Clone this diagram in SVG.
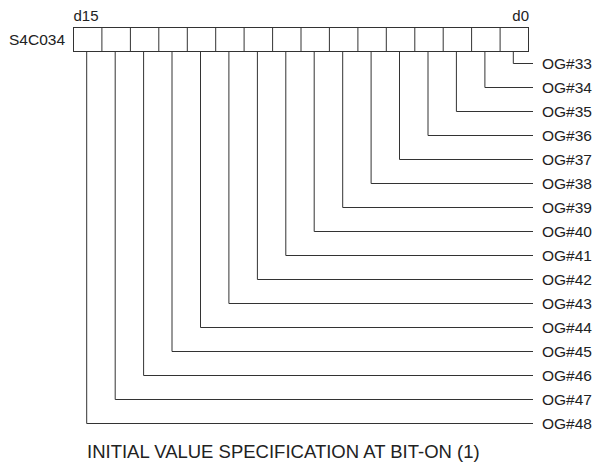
<svg xmlns="http://www.w3.org/2000/svg" width="594" height="463" viewBox="0 0 594 463">
<style>
text{font-family:"Liberation Sans",Arial,sans-serif;fill:#222;font-size:15px}
.cell{fill:#fff;stroke:#333;stroke-width:1}
.w{fill:none;stroke:#333;stroke-width:1}
.og{dominant-baseline:central;font-size:15.5px}
</style>
<rect width="594" height="463" fill="#fff"/>
<g id="register">
<text x="65" y="45" text-anchor="end" style="font-size:15.5px">S4C034</text>
<text x="73.5" y="21">d15</text>
<text x="529" y="21" text-anchor="end">d0</text>
<rect class="cell" x="73.5" y="27.5" width="455" height="24"/>
<path class="w" d="M101.9 27.5V51.5M130.4 27.5V51.5M158.8 27.5V51.5M187.3 27.5V51.5M215.7 27.5V51.5M244.1 27.5V51.5M272.6 27.5V51.5M301 27.5V51.5M329.4 27.5V51.5M357.9 27.5V51.5M386.3 27.5V51.5M414.8 27.5V51.5M443.2 27.5V51.5M471.6 27.5V51.5M500.1 27.5V51.5"/>
</g>
<g id="connectors" class="w">
<path d="M513.3 51.5V63.5H533"/>
<path d="M484.9 51.5V87.5H533"/>
<path d="M456.4 51.5V111.5H533"/>
<path d="M428 51.5V135.5H533"/>
<path d="M399.5 51.5V159.5H533"/>
<path d="M371.1 51.5V183.5H533"/>
<path d="M342.7 51.5V207.5H533"/>
<path d="M314.2 51.5V231.5H533"/>
<path d="M285.8 51.5V255.5H533"/>
<path d="M257.4 51.5V279.5H533"/>
<path d="M228.9 51.5V303.5H533"/>
<path d="M200.5 51.5V327.5H533"/>
<path d="M172 51.5V351.5H533"/>
<path d="M143.6 51.5V375.5H533"/>
<path d="M115.2 51.5V399.5H533"/>
<path d="M86.7 51.5V423.5H533"/>
</g>
<g id="labels">
<text class="og" x="542" y="63.5">OG#33</text>
<text class="og" x="542" y="87.5">OG#34</text>
<text class="og" x="542" y="111.5">OG#35</text>
<text class="og" x="542" y="135.5">OG#36</text>
<text class="og" x="542" y="159.5">OG#37</text>
<text class="og" x="542" y="183.5">OG#38</text>
<text class="og" x="542" y="207.5">OG#39</text>
<text class="og" x="542" y="231.5">OG#40</text>
<text class="og" x="542" y="255.5">OG#41</text>
<text class="og" x="542" y="279.5">OG#42</text>
<text class="og" x="542" y="303.5">OG#43</text>
<text class="og" x="542" y="327.5">OG#44</text>
<text class="og" x="542" y="351.5">OG#45</text>
<text class="og" x="542" y="375.5">OG#46</text>
<text class="og" x="542" y="399.5">OG#47</text>
<text class="og" x="542" y="423.5">OG#48</text>
</g>
<text id="caption" x="87" y="458" style="font-size:18.5px">INITIAL VALUE SPECIFICATION AT BIT-ON (1)</text>
</svg>
